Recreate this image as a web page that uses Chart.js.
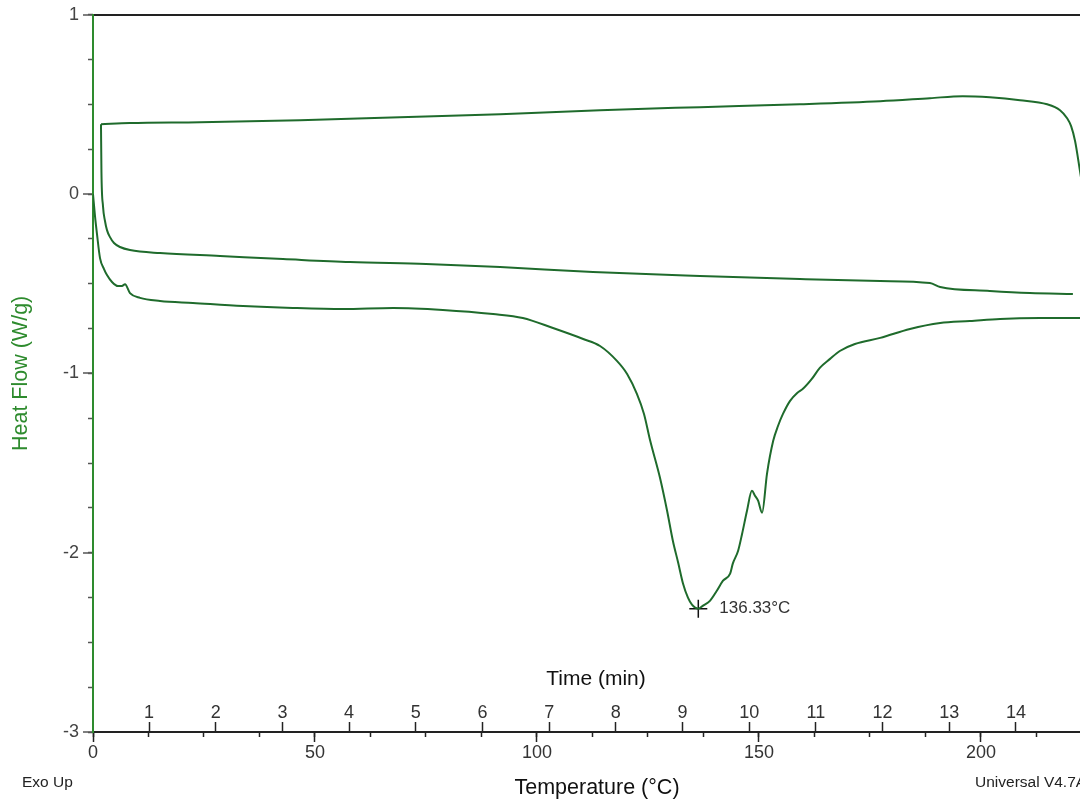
<!DOCTYPE html>
<html>
<head>
<meta charset="utf-8">
<script src="https://cdn.jsdelivr.net/npm/chart.js@4.4.1/dist/chart.umd.min.js"></script>
<style>
  body { margin: 0; background: #fff; }
  #wrap { width: 1080px; height: 803px; }
</style>
</head>
<body>
<div id="wrap"><canvas id="dsc"></canvas></div>
<script>
// first heating (lower trace)
const heat1Temp = [0, 0.45, 0.9, 1.58, 2.48, 3.15, 4.28, 5.63, 6.53, 7.21, 8.33, 10.6, 15.1, 22.5, 33.8, 45.0, 56.3, 67.6, 78.8, 90.1, 96.8, 103.6, 110.4, 114.2, 118.0, 120.3, 122.5, 124.1, 125.5, 127.7, 129.3, 130.6, 131.8, 132.9, 134.0, 134.9, 136.33, 137.4, 139.0, 140.5, 141.9, 143.5, 144.1, 145.3, 146.2, 147.3, 148.4, 149.1, 149.8, 150.7, 151.8, 153.2, 154.3, 155.4, 157.0, 158.6, 159.9, 161.9, 163.7, 166.0, 168.2, 171.6, 177.3, 184.0, 190.8, 197.5, 204.3, 213.3, 222.3, 223.4];
const heat1Flow = [0, -0.123, -0.223, -0.357, -0.418, -0.451, -0.490, -0.513, -0.512, -0.503, -0.552, -0.579, -0.596, -0.607, -0.624, -0.635, -0.641, -0.635, -0.646, -0.669, -0.691, -0.747, -0.808, -0.847, -0.930, -1.003, -1.114, -1.226, -1.376, -1.582, -1.766, -1.933, -2.056, -2.173, -2.251, -2.290, -2.312, -2.295, -2.267, -2.212, -2.156, -2.117, -2.061, -1.989, -1.894, -1.766, -1.655, -1.682, -1.710, -1.777, -1.560, -1.376, -1.292, -1.226, -1.153, -1.109, -1.086, -1.031, -0.969, -0.919, -0.875, -0.836, -0.802, -0.752, -0.719, -0.708, -0.696, -0.691, -0.691, -0.691];

// cooling (upper trace), from hot to cold
const coolTemp = [223.4, 222.3, 221.2, 220.3, 219.4, 217.8, 214.9, 208.8, 202.0, 195.9, 188.5, 177.3, 159.2, 136.7, 114.2, 91.7, 69.1, 46.6, 24.1, 8.3, 1.8];
const coolFlow = [-0.04, 0.128, 0.295, 0.379, 0.423, 0.468, 0.501, 0.524, 0.540, 0.546, 0.535, 0.518, 0.501, 0.485, 0.468, 0.446, 0.429, 0.412, 0.401, 0.396, 0.390];

// second heating (middle trace)
const heat2Temp = [1.8, 1.9, 2.25, 2.7, 3.15, 3.83, 4.73, 6.08, 8.33, 15.1, 28.6, 42.8, 57.9, 75.0, 91.7, 112.6, 136.7, 159.2, 177.3, 188.5, 190.8, 202.0, 211.0, 220.7];
const heat2Flow = [0.39, 0.128, -0.067, -0.150, -0.201, -0.240, -0.273, -0.295, -0.312, -0.329, -0.345, -0.362, -0.379, -0.390, -0.407, -0.435, -0.457, -0.474, -0.485, -0.496, -0.518, -0.540, -0.552, -0.557];

const peakTemp = [136.33];
const peakFlow = [-2.312];
const peakLabel = '136.33°C';

const tempTicks = [0, 50, 100, 150, 200];
const tempMinorTicks = [0, 12.5, 25, 37.5, 50, 62.5, 75, 87.5, 100, 112.5, 125, 137.5, 150, 162.5, 175, 187.5, 200, 212.5];
const timeTicks = [1, 2, 3, 4, 5, 6, 7, 8, 9, 10, 11, 12, 13, 14];
const flowTicks = [-3, -2, -1, 0, 1];

const curveColor = '#1f6b2c';
const axisGreen = '#2e8b2e';
const FONT = 'Liberation Sans, Arial, sans-serif';

function pts(xs, ys) {
  return xs.map((x, i) => ({ x: x, y: ys[i] }));
}
function useTicks(arr) {
  return scale => { scale.ticks = arr.map(v => ({ value: v })); };
}

const textPlugin = {
  id: 'dscText',
  afterDatasetsDraw(chart) {
    const ctx = chart.ctx;
    const p = chart.getDatasetMeta(3).data[0];
    ctx.save();
    ctx.fillStyle = '#333';
    ctx.textBaseline = 'middle';
    ctx.textAlign = 'left';
    ctx.font = '17px ' + FONT;
    ctx.fillText(peakLabel, p.x + 21, p.y);
    ctx.fillStyle = '#111';
    ctx.textAlign = 'center';
    ctx.font = '21px ' + FONT;
    ctx.fillText('Time (min)', 596, 679);
    ctx.font = '21.5px ' + FONT;
    ctx.fillText('Temperature (°C)', 597, 788);
    ctx.textAlign = 'left';
    ctx.font = '15.5px ' + FONT;
    ctx.fillStyle = '#222';
    ctx.fillText('Exo Up', 22, 783);
    ctx.fillText('Universal V4.7A TA Instruments', 975, 783);
    ctx.restore();
  }
};

new Chart(document.getElementById('dsc'), {
  type: 'scatter',
  data: {
    datasets: [
      { data: pts(heat1Temp, heat1Flow), showLine: true, borderColor: curveColor, borderWidth: 2, pointRadius: 0, cubicInterpolationMode: 'monotone' },
      { data: pts(coolTemp, coolFlow), showLine: true, borderColor: curveColor, borderWidth: 2, pointRadius: 0, cubicInterpolationMode: 'monotone' },
      { data: pts(heat2Temp, heat2Flow), showLine: true, borderColor: curveColor, borderWidth: 2, pointRadius: 0, cubicInterpolationMode: 'monotone' },
      { data: pts(peakTemp, peakFlow), pointStyle: 'cross', pointRadius: 9, borderColor: '#111', borderWidth: 1.5, clip: false }
    ]
  },
  options: {
    responsive: true,
    maintainAspectRatio: false,
    animation: false,
    layout: { autoPadding: false, padding: { top: 14, left: 0, right: 0, bottom: 0 } },
    plugins: { legend: { display: false }, tooltip: { enabled: false } },
    scales: {
      x: {
        type: 'linear', position: 'bottom', min: 0, max: 222.3,
        afterBuildTicks: useTicks(tempTicks),
        afterFit: s => { s.height = 71; },
        border: { color: '#222', width: 2 },
        grid: { drawOnChartArea: false, tickLength: 10, tickColor: '#222', tickWidth: 1.5 },
        ticks: { color: '#333', font: { family: FONT, size: 18 }, padding: 0, maxRotation: 0, autoSkip: false }
      },
      xMinor: {
        type: 'linear', position: { y: -3 }, min: 0, max: 222.3,
        afterBuildTicks: useTicks(tempMinorTicks),
        border: { display: false },
        grid: { drawOnChartArea: false, tickLength: 5, tickColor: '#222', tickWidth: 1.5 },
        ticks: { display: false }
      },
      xTime: {
        type: 'linear', position: { y: -3 }, min: 0.16, max: 14.96,
        afterBuildTicks: useTicks(timeTicks),
        border: { display: false },
        grid: { drawOnChartArea: false, tickLength: -10, tickColor: '#222', tickWidth: 1.5 },
        ticks: { color: '#333', font: { family: FONT, size: 18 }, padding: -20, maxRotation: 0, autoSkip: false }
      },
      y: {
        type: 'linear', position: 'left', min: -3, max: 1,
        afterBuildTicks: useTicks(flowTicks),
        afterFit: s => { s.width = 93; },
        border: { color: axisGreen, width: 2 },
        grid: {
          color: c => (c.tick && c.tick.value === 1) ? '#222' : 'rgba(0,0,0,0)',
          lineWidth: 2, tickLength: 10, tickColor: '#555', tickWidth: 1.5
        },
        ticks: { color: '#444', font: { family: FONT, size: 18 }, padding: 4 },
        title: { display: true, text: 'Heat Flow (W/g)', color: axisGreen, font: { family: FONT, size: 21.5 }, padding: { top: 8, bottom: 0 } }
      },
      yMinor: {
        type: 'linear', position: { x: 0 }, min: -3, max: 1,
        ticks: { display: false, stepSize: 0.25 },
        border: { display: false },
        grid: { drawOnChartArea: false, tickLength: 5, tickColor: '#555', tickWidth: 1.5 }
      }
    }
  },
  plugins: [textPlugin]
});
</script>
</body>
</html>
